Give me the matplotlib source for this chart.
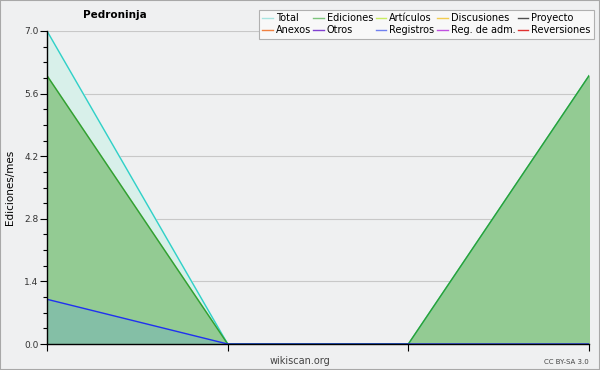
import numpy as np
import matplotlib
matplotlib.use('Agg')
import matplotlib.pyplot as plt
from matplotlib.lines import Line2D
from matplotlib.patches import Rectangle

# datos por mes (4 meses)
meses = [0, 1, 2, 3]
total = [7, 0, 0, 6]
ediciones = [6, 0, 0, 6]
registros = [1, 0, 0, 0]

yticks = [0.0, 1.4, 2.8, 4.2, 5.6, 7.0]

nombres = ['Total', 'Ediciones', 'Artículos', 'Discusiones', 'Proyecto',
           'Anexos', 'Otros', 'Registros', 'Reg. de adm.', 'Reversiones']
colores = ['#a8e4e0', '#7cc47c', '#c8ec60', '#f2cc50', '#505050',
           '#f08040', '#8040d0', '#7080f0', '#c050e0', '#e03030']

bg = '#eff0f1'
fig = plt.figure(figsize=(6, 3.7), dpi=100, facecolor=bg)
ax = fig.add_axes([47/600, 26/370, 542/600, 313/370])
ax.set_facecolor(bg)

# rellenos
ax.fill_between(meses, total, color='#d8f0ea', zorder=1)
ax.fill_between(meses, ediciones, color='#93cb93', zorder=2)
ax.fill_between(meses, registros, color='#84bfa6', zorder=3)

ax.plot(meses, total, color='#30d0c8', lw=1, zorder=4)
ax.plot(meses, ediciones, color='#30a030', lw=1, zorder=5)
ax.plot(meses, registros, color='#2030f0', lw=1, zorder=6)

ax.set_xlim(0, 3)
ax.set_ylim(0, 7)
ax.set_xticks(meses)
ax.set_xticklabels([])
ax.set_yticks(yticks)
ax.set_yticklabels(['%.1f' % v for v in yticks], fontsize=6.5, color='#333333')
ax.set_yticks(np.arange(0, 7.01, 0.35), minor=True)
ax.tick_params(axis='y', which='major', length=5, width=0.8, pad=1)
ax.tick_params(axis='y', which='minor', length=3, width=0.8)
ax.tick_params(axis='x', length=5, width=0.8)
ax.grid(axis='y', color='#c8c8c8', lw=0.8, zorder=0)
ax.set_axisbelow(True)
for s in ['top', 'right']:
    ax.spines[s].set_visible(False)
for s in ['left', 'bottom']:
    ax.spines[s].set_linewidth(1)
    ax.spines[s].set_zorder(10)

ax.set_ylabel('Ediciones/mes', fontsize=7.5, labelpad=7)

fig.text(115/600, 1 - 15/370, 'Pedroninja', fontsize=7.5, fontweight='bold',
         ha='center', va='center')
fig.text(300/600, 1 - 361/370, 'wikiscan.org', fontsize=7, color='#444444',
         ha='center', va='center')
fig.text(589/600, 1 - 362/370, 'CC BY-SA 3.0', fontsize=5, color='#444444',
         ha='right', va='center')

# leyenda, orden por filas
orden = [0, 5, 1, 6, 2, 7, 3, 8, 4, 9]
handles = [Line2D([], [], color=colores[i], lw=1) for i in orden]
labels = [nombres[i] for i in orden]
leg = fig.legend(handles, labels, ncol=5, loc='upper right',
                 bbox_to_anchor=(594/600, 1 - 10/370), fontsize=7,
                 handlelength=1.1, handletextpad=0.3, columnspacing=0.25,
                 labelspacing=0.2, borderpad=0.35, borderaxespad=0,
                 frameon=True, fancybox=False, edgecolor='#b0b0b0',
                 facecolor='#f8f8f8', framealpha=1)
leg.get_frame().set_linewidth(0.8)

fig.patches.append(Rectangle((0, 0), 1, 1, transform=fig.transFigure,
                             fill=False, edgecolor='#a8a8a8', lw=1.5))

fig.savefig('out.png', dpi=100, facecolor=bg)
